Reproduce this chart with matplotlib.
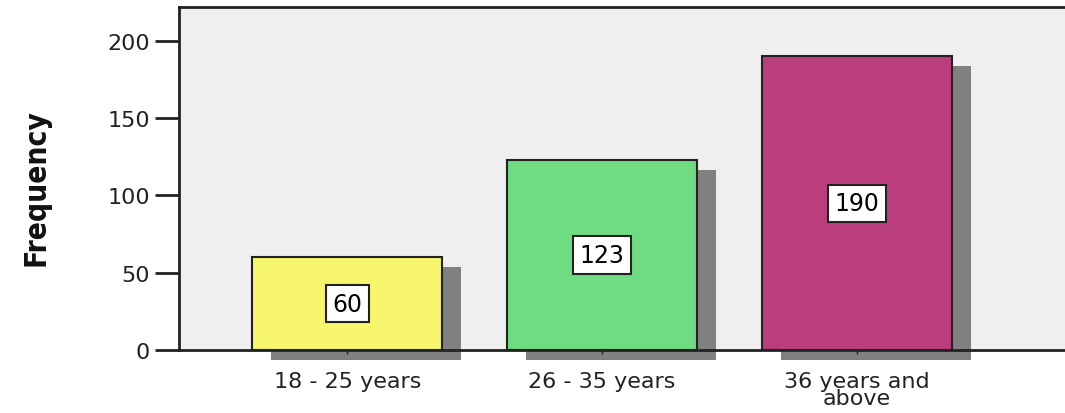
import matplotlib.pyplot as plt
from matplotlib.transforms import ScaledTranslation

categories = ['18 - 25 years', '26 - 35 years', '36 years and\nabove']
counts = [60, 123, 190]
colors = ['#f8f56f', '#6fdc82', '#ba3e7b']
yticks = [0, 50, 100, 150, 200]

plt.rcParams['font.family'] = ['DejaVu Sans']

fig = plt.figure(figsize=(10.65, 4.14), dpi=100)
ax = fig.add_axes([179 / 1065, 63 / 414, 1.02 - 179 / 1065, (351 - 8) / 414])
ax.set_facecolor('#efefef')

x = list(range(len(categories)))
# grey drop shadow, shifted right and down
shadow = ax.transData + ScaledTranslation(0.19, -0.10, fig.dpi_scale_trans)
ax.bar(x, counts, width=0.745, color='#808080', linewidth=0,
       transform=shadow, clip_on=False, zorder=1)
ax.bar(x, counts, width=0.745, color=colors, edgecolor='#222222',
       linewidth=1.5, zorder=2)

for xi, c in zip(x, counts):
    ax.text(xi, c / 2, str(c), ha='center', va='center', fontsize=17,
            zorder=4,
            bbox=dict(boxstyle='square,pad=0.28', fc='white', ec='#222222', lw=1.5))

ax.set_xlim(-0.66, 2.9)
ax.set_ylim(0, 222)
ax.set_yticks(yticks)
ax.set_xticks(x)
ax.set_xticklabels(categories, fontsize=16, linespacing=0.8)
ax.tick_params(axis='y', length=17, width=2, labelsize=16, pad=4, colors='#222222')
ax.tick_params(axis='x', length=3, width=1, pad=12, colors='#222222')
for s in ['left', 'top', 'bottom']:
    ax.spines[s].set_linewidth(2)
    ax.spines[s].set_color('#222222')
ax.spines['right'].set_visible(False)

fig.text(36 / 1065, 1 - 188 / 414, 'Frequency', rotation=90, ha='center',
         va='center', fontsize=21.5, fontweight='bold', fontstretch='condensed',
         color='#111111')

fig.savefig('out.png', dpi=100)
